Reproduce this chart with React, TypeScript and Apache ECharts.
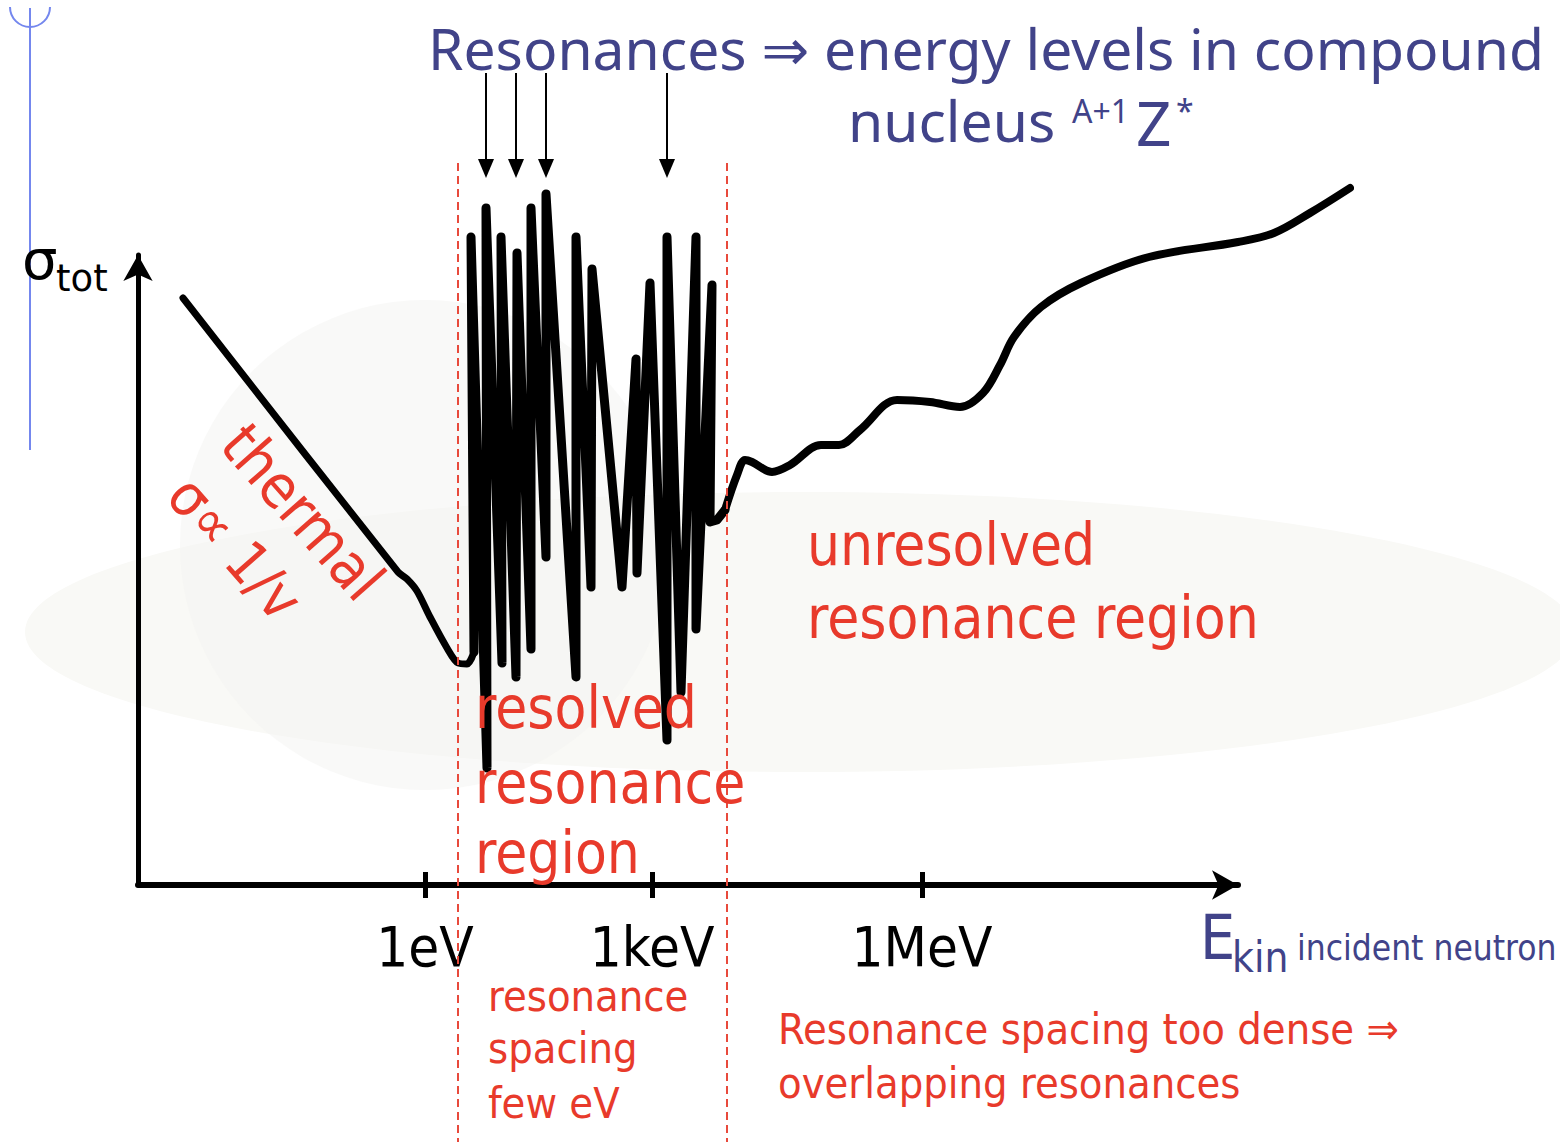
import React, { useEffect, useRef } from 'react';
import * as echarts from 'echarts';

// Schematic energy positions (E) and total cross-section (S) in chart units
const tickValues = [287, 514, 784];
const tickLabels = ['1eV', '1keV', '1MeV'];

const thermalCurve = [
  [45, 587], [260, 313], [269, 306], [279, 294], [292, 268], [309, 237],
  [320, 222], [329, 221], [336, 233],
];
const resolvedCurve = [
  [336, 233], [333, 648], [349, 117], [348, 677], [364, 222], [363, 648],
  [378, 208], [379, 632], [393, 236], [393, 677], [408, 328], [408, 691],
  [438, 208], [438, 648], [453, 298], [454, 616], [484, 298], [498, 526],
  [499, 312], [512, 602], [529, 145], [529, 648], [543, 193], [558, 648],
  [558, 256], [574, 600], [572, 363], [579, 365], [587, 375],
];
const unresolvedCurve = [
  [587, 375], [599, 410], [607, 425], [614, 423], [634, 413], [652, 420],
  [683, 440], [701, 440], [722, 455], [759, 485], [792, 483], [822, 478],
  [845, 492], [862, 520], [876, 548], [903, 578], [943, 602], [1011, 628],
  [1100, 643], [1136, 652], [1172, 672], [1212, 697],
];
const resonanceArrowE = [348, 378, 408, 529];
const regionBoundsE = [320, 589];

const RED = '#e83a2b';
const BLUE = '#414389';
const COND = '"DejaVu Sans Condensed", "DejaVu Sans", sans-serif';
const TITLE = '"Noto Sans", "DejaVu Sans", sans-serif';

export default function App() {
  const ref = useRef<HTMLDivElement>(null);
  useEffect(() => {
    if (!ref.current) return;
    const chart = echarts.init(ref.current, undefined, { renderer: 'svg' });
    const hiddenAxis = {
      axisLine: { show: false }, axisTick: { show: false }, axisLabel: { show: false }, splitLine: { show: false },
    };
    const base: any = {
      animation: false,
      backgroundColor: '#ffffff',
      grid: [
        { left: 138, top: 255, width: 1100, height: 630 },
        { left: 138, top: 185, width: 1212, height: 700 },
      ],
      xAxis: [
        {
          type: 'value', min: 0, max: 1100, gridIndex: 0,
          axisLine: { show: true, symbol: ['none', 'arrow'], symbolSize: [22, 26], lineStyle: { color: '#000', width: 6 } },
          axisTick: { show: true, customValues: tickValues, length: 13, lineStyle: { color: '#000', width: 5 } },
          axisLabel: {
            show: true, customValues: tickValues, margin: 40,
            formatter: (v: number) => tickLabels[tickValues.indexOf(v)] || '',
            fontSize: 56, lineHeight: 42, fontFamily: COND, color: '#000',
          },
          splitLine: { show: false },
        },
        {
          type: 'value', min: 0, max: 1100, gridIndex: 0, position: 'bottom',
          axisLine: { show: false },
          axisTick: { show: true, inside: true, customValues: tickValues, length: 13, lineStyle: { color: '#000', width: 5 } },
          axisLabel: { show: false },
          splitLine: { show: false },
        },
        { type: 'value', min: 0, max: 1212, gridIndex: 1, ...hiddenAxis },
      ],
      yAxis: [
        {
          type: 'value', min: 0, max: 630, gridIndex: 0,
          axisLine: { show: true, symbol: ['none', 'arrow'], symbolSize: [22, 26], lineStyle: { color: '#000', width: 5 } },
          axisTick: { show: false }, axisLabel: { show: false }, splitLine: { show: false },
        },
        { type: 'value', min: 0, max: 700, gridIndex: 1, ...hiddenAxis },
      ],
      series: [
        {
          type: 'line', data: thermalCurve, xAxisIndex: 2, yAxisIndex: 1, smooth: 0.3, symbol: 'none', clip: false, z: 3,
          lineStyle: { color: '#000', width: 7, cap: 'round', join: 'round' },
        },
        {
          type: 'line', data: resolvedCurve, xAxisIndex: 2, yAxisIndex: 1, smooth: false, symbol: 'none', clip: false, z: 3,
          lineStyle: { color: '#000', width: 9, cap: 'round', join: 'round' },
        },
        {
          type: 'line', data: unresolvedCurve, xAxisIndex: 2, yAxisIndex: 1, smooth: 0.35, symbol: 'none', clip: false, z: 3,
          lineStyle: { color: '#000', width: 8, cap: 'round', join: 'round' },
        },
      ],
    };
    chart.setOption(base);

    const px = (e: number) => chart.convertToPixel({ xAxisIndex: 0 }, e) as number;
    const g: any[] = [];
    // faint watermark
    g.push({ type: 'ellipse', z: -10, shape: { cx: 800, cy: 632, rx: 775, ry: 140 }, style: { fill: '#f9f9f6' } });
    g.push({ type: 'circle', z: -9, shape: { cx: 425, cy: 545, r: 245 }, style: { fill: '#f4f4f1', opacity: 0.5 } });
    // blue slide line
    g.push({ type: 'line', z: 5, shape: { x1: 30, y1: 8, x2: 30, y2: 450 }, style: { stroke: '#7487ee', lineWidth: 2 } });
    g.push({ type: 'arc', z: 5, shape: { cx: 30, cy: 7, r: 20, startAngle: 0, endAngle: Math.PI, clockwise: true }, style: { stroke: '#7487ee', lineWidth: 2, fill: 'none' } });
    // region boundaries
    regionBoundsE.forEach((e) => {
      const x = px(e);
      g.push({ type: 'line', z: 6, shape: { x1: x, y1: 163, x2: x, y2: 1142 }, style: { stroke: '#e84a3c', lineWidth: 2, lineDash: [8, 5] } });
    });
    // resonance arrows
    resonanceArrowE.forEach((e) => {
      const x = px(e);
      g.push({ type: 'line', z: 6, shape: { x1: x, y1: 73, x2: x, y2: 162 }, style: { stroke: '#000', lineWidth: 2 } });
      g.push({ type: 'polygon', z: 6, shape: { points: [[x - 8, 159], [x + 8, 159], [x, 178]] }, style: { fill: '#000' } });
    });
    const txt = (text: string, x: number, y: number, size: number, color: string, family: string, extra: any = {}) => ({
      type: 'text', z: 10, x, y, ...extra,
      style: {
        text, fill: color, fontSize: size, lineHeight: Math.round(size * 0.85), fontFamily: family,
        align: extra.align || 'left', verticalAlign: 'middle',
      },
    });
    // title
    g.push(txt('Resonances ⇒ energy levels in compound', 428, 48, 57, BLUE, TITLE));
    g.push(txt('nucleus', 848, 120, 57, BLUE, TITLE));
    g.push(txt('A+1', 1072, 110, 32, BLUE, TITLE));
    g.push(txt('Z', 1136, 122, 62, BLUE, TITLE));
    g.push(txt('*', 1176, 110, 32, BLUE, TITLE));
    // y label
    g.push(txt('σ', 22, 259, 56, '#000', '"DejaVu Sans", sans-serif'));
    g.push(txt('tot', 56, 278, 37, '#000', '"DejaVu Sans", sans-serif'));
    // x label
    g.push(txt('E', 1200, 937, 62, BLUE, COND));
    g.push(txt('kin', 1232, 957, 42, BLUE, COND));
    g.push(txt('incident neutron', 1297, 948, 35, BLUE, COND));
    // red annotations
    const rot = -0.85;
    g.push(txt('thermal', 303, 512, 60, RED, COND, { rotation: rot, align: 'center' }));
    g.push(txt('σ∝ 1/v', 235, 548, 58, RED, COND, { rotation: rot, align: 'center' }));
    g.push(txt('unresolved', 807, 545, 58, RED, COND));
    g.push(txt('resonance region', 807, 618, 58, RED, COND));
    g.push(txt('resolved', 475, 708, 58, RED, COND));
    g.push(txt('resonance', 475, 783, 58, RED, COND));
    g.push(txt('region', 475, 853, 58, RED, COND));
    g.push(txt('resonance', 488, 996, 43, RED, COND));
    g.push(txt('spacing', 488, 1048, 43, RED, COND));
    g.push(txt('few eV', 488, 1103, 43, RED, COND));
    g.push(txt('Resonance spacing too dense ⇒', 778, 1029, 43, RED, COND));
    g.push(txt('overlapping resonances', 778, 1083, 43, RED, COND));

    chart.setOption({ graphic: g });
    return () => chart.dispose();
  }, []);
  return (
    <div
      ref={ref}
      style={{ position: 'absolute', left: 0, top: 0, width: 1560, height: 1142, background: '#fff' }}
    />
  );
}
